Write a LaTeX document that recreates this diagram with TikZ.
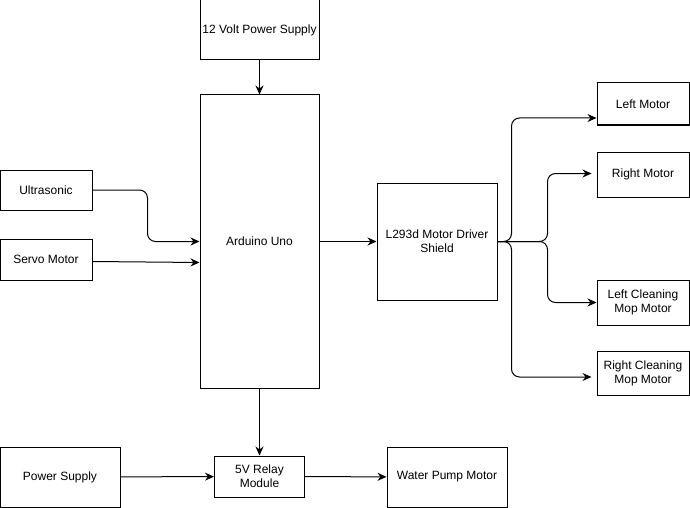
\documentclass[tikz,border=0pt]{standalone}
\usepackage{fontspec}
\setmainfont{Liberation Sans}
\usetikzlibrary{arrows.meta}

\begin{document}
\begin{tikzpicture}[
x=1pt, y=-1pt,
block/.style={rectangle, draw=black, line width=1pt, inner sep=0pt, align=center, font=\fontsize{12}{14}\selectfont},
link/.style={line width=1pt, -{Stealth[length=9pt, width=8pt]}, rounded corners=8pt},
]
\useasboundingbox (0,0) rectangle (690,508);
\node[block, minimum width=119pt, minimum height=60pt] (psu) at (259.5,30) {12 Volt Power Supply};
\node[block, minimum width=119pt, minimum height=293pt] (uno) at (259.5,241.5) {Arduino Uno};
\node[block, minimum width=92pt, minimum height=40pt] (ultra) at (46,190) {Ultrasonic};
\node[block, minimum width=92pt, minimum height=41pt] (servo) at (46,259.5) {Servo Motor};
\node[block, minimum width=120pt, minimum height=117pt] (shield) at (437,241.5) {L293d Motor Driver\\Shield};
\node[block, minimum width=92pt, minimum height=42pt] (lmotor) at (643,104) {Left Motor};
\node[block, minimum width=92pt, minimum height=45pt] (rmotor) at (643,174.5) {Right Motor};
\node[block, minimum width=92pt, minimum height=45pt] (lmop) at (643,302.5) {Left Cleaning\\Mop Motor};
\node[block, minimum width=92pt, minimum height=44pt] (rmop) at (643,373) {Right Cleaning\\Mop Motor};
\node[block, minimum width=120pt, minimum height=60pt] (power) at (60,477) {Power Supply};
\node[block, minimum width=90pt, minimum height=41pt] (relay) at (259.5,476.5) {5V Relay\\Module};
\node[block, minimum width=120pt, minimum height=60pt] (pump) at (447,477) {Water Pump Motor};

\draw[link] (psu) -- (uno);
\draw[link] (ultra.east) -- ++(55,0) |- (uno.west);
\draw[link] ([yshift=-2pt]servo.east) -- ([yshift=-21pt]uno.west);
\draw[link] (uno.east) -- (shield.west);
\draw[link] (shield.east) -- ++(14,0) |- ([yshift=-14pt]lmotor.west);
\draw[link, shorten >=5pt] (shield.east) -- ++(50,0) |- ([yshift=1pt]rmotor.west);
\draw[link] (shield.east) -- ++(50,0) |- (lmop.west);
\draw[link, shorten >=5pt] (shield.east) -- ++(14,0) |- ([yshift=-4pt]rmop.west);
\draw[link] (uno) -- (relay);
\draw[link] (power) -- (relay);
\draw[link] (relay) -- (pump);
\end{tikzpicture}
\end{document}
